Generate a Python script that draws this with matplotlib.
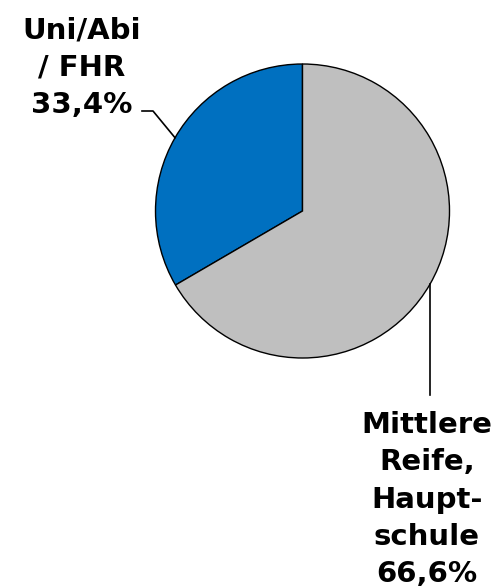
import numpy as np
import matplotlib
matplotlib.use("Agg")
import matplotlib.pyplot as plt

# Bildungsabschluss
labels = ["Uni/Abi\n/ FHR", "Mittlere\nReife,\nHaupt-\nschule"]
werte = [33.4, 66.6]
farben = ["#0070C0", "#BFBFBF"]

fig = plt.figure(figsize=(5.02, 5.87), dpi=100)
ax = fig.add_axes([0, 0, 1, 1])
ax.set_xlim(0, 502)
ax.set_ylim(0, 587)
ax.set_aspect("equal")
ax.axis("off")

cx, cy, r = 302.5, 376, 147
wedges, _ = ax.pie(werte, colors=farben, startangle=90, counterclock=True,
                   center=(cx, cy), radius=r,
                   wedgeprops=dict(edgecolor="black", linewidth=1.0))
ax.set_xlim(0, 502)
ax.set_ylim(0, 587)

texte = [f"{l}\n{str(w).replace('.', ',')}%" for l, w in zip(labels, werte)]

# Beschriftung 1 (oben links)
w = wedges[0]
mid = np.deg2rad((w.theta1 + w.theta2) / 2)
px, py = cx + r * np.cos(mid), cy + r * np.sin(mid)
ax.plot([px, 153, 142], [py, 476, 476], color="black", lw=1.2)
ax.text(82, 474, texte[0], ha="center", va="baseline", fontsize=21,
        fontweight="bold", linespacing=1.42, family="DejaVu Sans")

# Beschriftung 2 (unten rechts)
w = wedges[1]
mid = np.deg2rad((w.theta1 + w.theta2) / 2)
px, py = cx + r * np.cos(mid), cy + r * np.sin(mid)
ax.plot([px, px], [py, 192], color="black", lw=1.2)
ax.text(427, 5, texte[1], ha="center", va="baseline", fontsize=21,
        fontweight="bold", linespacing=1.42, family="DejaVu Sans")

fig.savefig("out.png", dpi=100)
